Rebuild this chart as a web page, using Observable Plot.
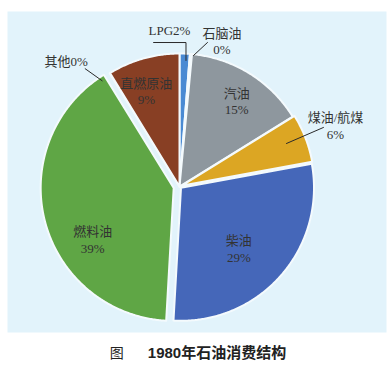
<!DOCTYPE html>
<html><head><meta charset="utf-8">
<script src="https://cdn.jsdelivr.net/npm/d3@7"></script>
<script src="https://cdn.jsdelivr.net/npm/@observablehq/plot@0.6"></script>
<style>
body{margin:0;background:#fff;width:390px;}
#cap{text-align:center;font:14px 'Liberation Sans','Noto Sans CJK SC',sans-serif;color:#222;padding-top:8px;line-height:20px;padding-left:6px;}
#cap b{margin-left:24px;font-weight:bold;font-size:15px;}
</style></head><body>
<div id="chart"></div>
<div id="cap">图<b>1980年石油消费结构</b></div>
<script>
// Categories (clockwise from 12 o'clock)
const names = ["LPG", "石脑油", "汽油", "煤油/航煤", "柴油", "燃料油", "其他", "直燃原油"];
// Shares (%)
const shares = [1.25, 0.25, 14.7, 5.9, 28.8, 40.3, 0.05, 8.75];
// Percent labels as printed
const labelPct = ["2%", "0%", "15%", "6%", "29%", "39%", "0%", "9%"];
const singleLine = [true, false, false, false, false, false, true, false];

// Styles
const colors = ["#4a8ad3", "#a9cbed", "#8e979e", "#dca623", "#4567b9", "#5fa645", "#cfe3ee", "#883f24"];
const explode = [0, 0, 0, 2, 2, 6, 0, 0];
const R = 133;
// label placement: [angle shift from slice middle (deg), distance from centre]
const labelLayout = [[-5.9,157.3],[11.3,152],[1.8,103.2],[-0.3,167.5],[4.7,85.6],[-16.9,101.4],[-10.5,169.2],[-3.3,101.5]];
// leader lines: list of [angle shift, distance] points, or null
const leaderLayout = [
  [[0.7,126.2],[0.33,144.1],[-12.45,146.3]],
  [[1.15,131.7],[6.05,146.7]],
  null,
  [[-0.84,115.3],[-1.24,155.6]],
  null, null,
  [[-4.6,131],[-7.1,150.9]],
  null
];

const total = d3.sum(shares);
const pol = (ang, rho) => [rho * Math.sin(ang * Math.PI / 180), rho * Math.cos(ang * Math.PI / 180)];
let acc = 0;
const slices = names.map((name, i) => {
  const a0 = acc / total * 360; acc += shares[i]; const a1 = acc / total * 360;
  return {name, i, a0, a1, mid: (a0 + a1) / 2};
});
const pts = [];
for (const s of slices) {
  const [ox, oy] = pol(s.mid, explode[s.i]);
  pts.push({name: s.name, x: ox, y: oy});
  const n = Math.max(2, Math.ceil((s.a1 - s.a0) / 0.5));
  for (let k = 0; k <= n; k++) {
    const a = s.a0 + (s.a1 - s.a0) * k / n;
    const [x, y] = pol(a, R);
    pts.push({name: s.name, x: x + ox, y: y + oy});
  }
}
const labels = slices.map(s => {
  const [dA, rho] = labelLayout[s.i];
  const [x, y] = pol(s.mid + dA, rho);
  return {x, y, text: singleLine[s.i] ? s.name + labelPct[s.i] : s.name + "\n" + labelPct[s.i]};
});
const leaders = [];
slices.forEach(s => {
  const L = leaderLayout[s.i];
  if (!L) return;
  L.forEach(([dA, rho]) => { const [x, y] = pol(s.mid + dA, rho); leaders.push({name: s.name, x, y}); });
});

const chart = Plot.plot({
  width: 390, height: 335,
  marginLeft: 7, marginRight: 4, marginTop: 11, marginBottom: 3,
  x: {domain: [-172, 207], axis: null},
  y: {domain: [-146, 175], axis: null},
  color: {domain: names, range: colors},
  marks: [
    Plot.frame({fill: "#e2f3fb", stroke: null}),
    Plot.line(pts, {x: "x", y: "y", z: "name", fill: "name", stroke: "#f4fafd", strokeWidth: 2, curve: "linear-closed"}),
    Plot.line(leaders, {x: "x", y: "y", z: "name", stroke: "#2a2a2a", strokeWidth: 1}),
    Plot.text(labels, {x: "x", y: "y", text: "text", fontSize: 13, lineHeight: 1.3, fill: "#333",
      fontFamily: "'Liberation Serif','Noto Sans CJK SC',serif"})
  ]
});
document.getElementById("chart").appendChild(chart);
</script>
</body></html>
